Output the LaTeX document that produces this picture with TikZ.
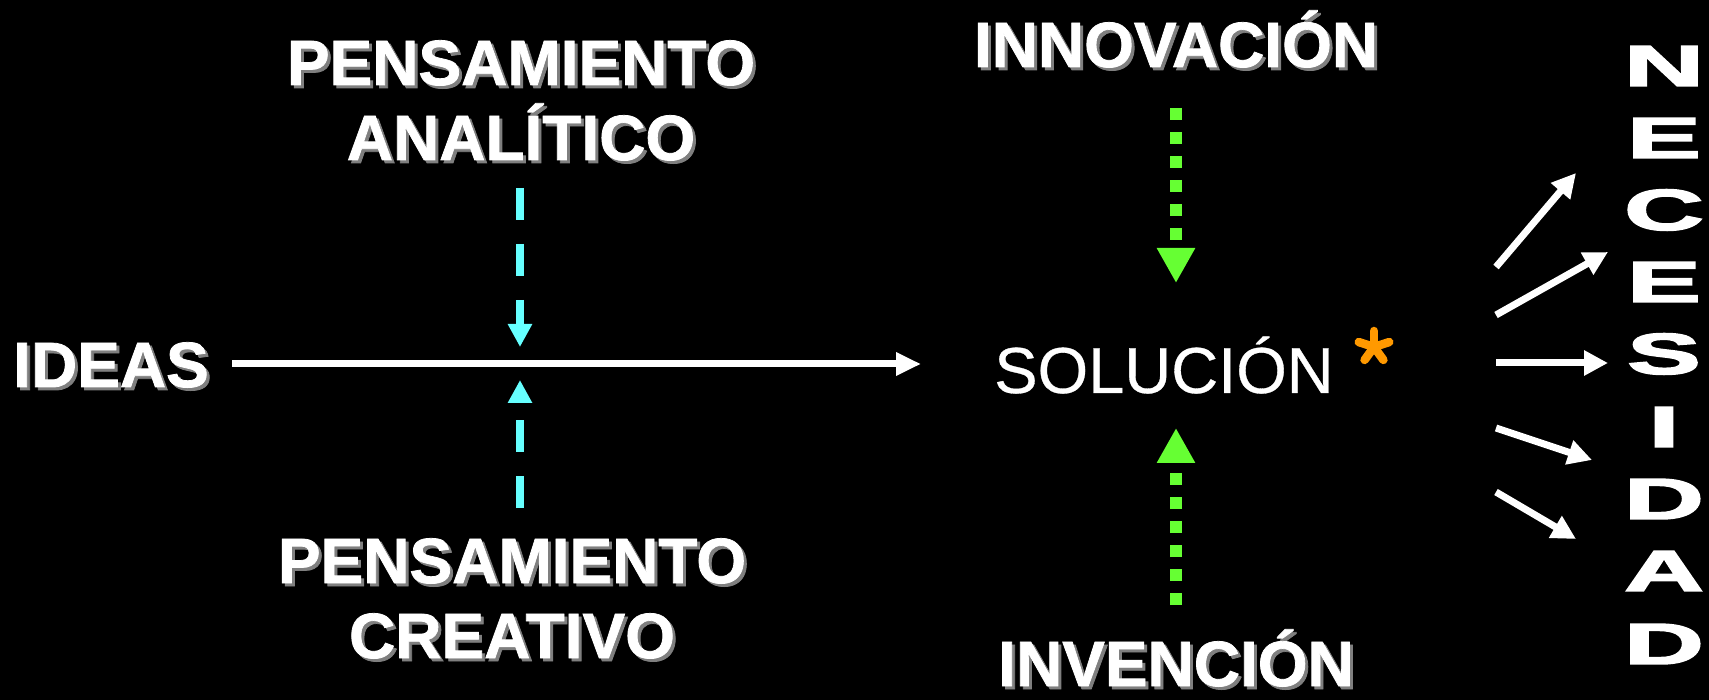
\documentclass[tikz,border=0pt]{standalone}
\usepackage{fontspec}
\setmainfont{Liberation Sans}
\newfontfamily\lblfont{Liberation Sans Bold}[FakeBold=1.2]
\newfontfamily\solfont{Liberation Sans}[FakeBold=0.5]
\newfontfamily\necfont{Liberation Sans Bold}[FakeBold=2.5]
\usetikzlibrary{arrows.meta}
\definecolor{cyanarr}{HTML}{66FFFF}
\definecolor{greenarr}{HTML}{66FF33}
\definecolor{orangeast}{HTML}{FF9900}
\definecolor{shadowgray}{HTML}{7F7F7F}
\tikzset{
  lbl/.style={anchor=base, inner sep=0pt, text=white, font=\lblfont\fontsize{64}{64}\selectfont},
  sollbl/.style={anchor=base, inner sep=0pt, text=white, font=\solfont\fontsize{65}{65}\selectfont},
  necletter/.style={anchor=center, inner sep=0pt, text=white},
  mainarrow/.style={white, line width=7pt, -{Triangle[length=25pt,width=22pt]}},
  cyanarrow/.style={cyanarr, line width=8pt, dash pattern=on 32pt off 24pt, -{Triangle[length=23pt,width=23pt]}},
  greenarrow/.style={greenarr, line width=12pt, dash pattern=on 12pt off 12pt, -{Triangle[length=35pt,width=36pt]}},
  needarrow/.style={white, line width=7pt, -{Triangle[length=24pt,width=24pt]}},
  asterarm/.style={orangeast, line width=8.5pt, line cap=round}
}
\newcommand{\shlabel}[4]{%
  \node[lbl, text=shadowgray] at (#2+3,#3+3) {#4};
  \node[lbl] (#1) at (#2,#3) {#4};}
\newcommand{\necl}[3]{%
  \node[necletter] (#1) at (1664,#2) {\scalebox{1.9}[1]{\necfont\fontsize{58}{58}\selectfont #3}};}
\begin{document}
\begin{tikzpicture}[x=1pt,y=-1pt]
\fill[black] (0,0) rectangle (1709,700);
\useasboundingbox (0,0) rectangle (1709,700);

% labels with shadow
\shlabel{ideas}{111}{387}{IDEAS}
\shlabel{pa}{521}{85}{PENSAMIENTO}
\shlabel{an}{521}{160}{ANALÍTICO}
\shlabel{pc}{512}{583}{PENSAMIENTO}
\shlabel{cr}{512}{658}{CREATIVO}
\shlabel{inno}{1176}{67}{INNOVACIÓN}
\shlabel{inve}{1176}{686}{INVENCIÓN}

% solution
\node[sollbl] (sol) at (1164,393) {SOLUCIÓN};
\coordinate (ast) at (1374,347);
\foreach \a in {-90,-18,-162,54,126}
  \draw[asterarm] (ast) -- ++(\a:16);

% main arrow
\coordinate (mainS) at (232,364);
\coordinate (mainE) at (921,364);
\draw[mainarrow] (mainS) -- (mainE);

% cyan arrows
\coordinate (cyA1) at (520,188);
\coordinate (cyA2) at (520,347);
\coordinate (cyB1) at (520,508);
\coordinate (cyB2) at (520,380);
\draw[cyanarrow] (cyA1) -- (cyA2);
\draw[cyanarrow] (cyB1) -- (cyB2);

% green arrows
\coordinate (grA1) at (1176,108);
\coordinate (grA2) at (1176,283);
\coordinate (grB1) at (1176,605);
\coordinate (grB2) at (1176,428);
\draw[greenarrow] (grA1) -- (grA2);
\draw[greenarrow] (grB1) -- (grB2);

% need arrows
\coordinate (n1s) at (1496,267); \coordinate (n1e) at (1576,173);
\coordinate (n2s) at (1496,315); \coordinate (n2e) at (1608,252);
\coordinate (n3s) at (1496,363); \coordinate (n3e) at (1608,363);
\coordinate (n4s) at (1496,428); \coordinate (n4e) at (1592,460);
\coordinate (n5s) at (1496,492); \coordinate (n5e) at (1576,539);
\draw[needarrow] (n1s) -- (n1e);
\draw[needarrow] (n2s) -- (n2e);
\draw[needarrow] (n3s) -- (n3e);
\draw[needarrow] (n4s) -- (n4e);
\draw[needarrow] (n5s) -- (n5e);

% NECESIDAD
\necl{l1}{66}{N}
\necl{l2}{138}{E}
\necl{l3}{210}{C}
\necl{l4}{282}{E}
\necl{l5}{354}{S}
\necl{l6}{427}{I}
\necl{l7}{499}{D}
\necl{l8}{571}{A}
\necl{l9}{644}{D}
\end{tikzpicture}
\end{document}
